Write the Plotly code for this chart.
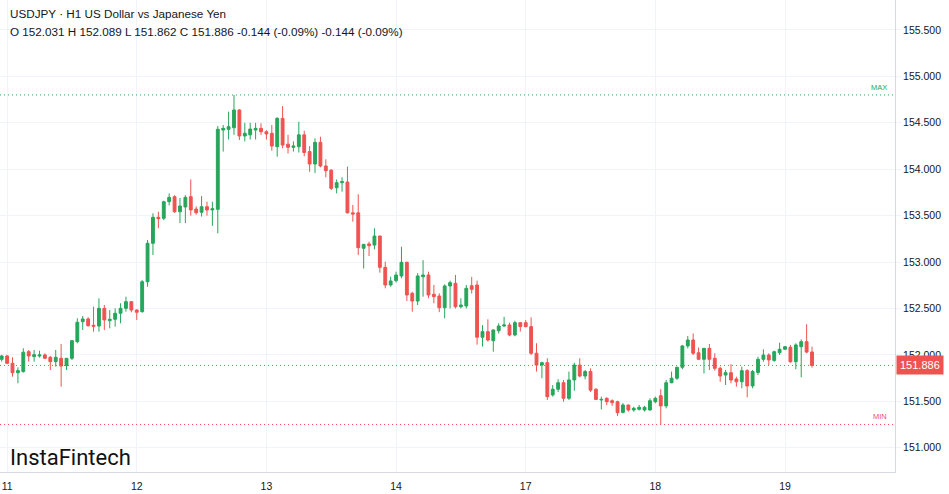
import plotly.graph_objects as go

# ---- data (H1 candles, left to right) ----
OPEN = [151.952, 151.988, 151.909, 151.808, 151.820, 152.034, 151.981, 151.988, 151.999, 151.974,
        151.927, 151.963, 151.884, 151.963, 152.142, 152.357, 152.387, 152.319, 152.311, 152.501,
        152.368, 152.383, 152.448, 152.501, 152.573, 152.483, 152.465, 152.788, 153.202, 153.482,
        153.471, 153.650, 153.704, 153.542, 153.593, 153.704, 153.571, 153.536, 153.596, 153.561,
        153.568, 154.422, 154.430, 154.447, 154.638, 154.358, 154.370, 154.422, 154.440, 154.404,
        154.387, 154.243, 154.548, 154.270, 154.236, 154.243, 154.370, 154.190, 154.056, 154.290,
        154.035, 153.990, 153.800, 153.855, 153.862, 153.530, 153.530, 153.148, 153.195, 153.183,
        153.280, 152.943, 152.753, 152.800, 152.850, 152.997, 152.663, 152.580, 152.842, 152.860,
        152.653, 152.634, 152.508, 152.742, 152.771, 152.519, 152.527, 152.745, 152.753, 152.190,
        152.250, 152.153, 152.260, 152.311, 152.322, 152.214, 152.347, 152.347, 152.304, 152.017,
        151.890, 151.916, 151.568, 151.630, 151.700, 151.532, 151.730, 151.890, 151.772, 151.820,
        151.630, 151.514, 151.532, 151.506, 151.495, 151.380, 151.460, 151.406, 151.414, 151.406,
        151.406, 151.495, 151.560, 151.450, 151.700, 151.748, 151.866, 152.096, 152.160, 152.023,
        151.952, 152.070, 151.963, 151.855, 151.783, 151.808, 151.740, 151.710, 151.830, 151.665,
        151.810, 151.952, 151.998, 151.940, 152.023, 152.060, 152.081, 151.926, 152.088, 152.142,
        152.031]
HIGH = [152.000, 151.999, 151.974, 151.866, 152.071, 152.053, 152.053, 152.045, 152.017, 151.988,
        152.053, 152.117, 151.963, 152.160, 152.394, 152.419, 152.405, 152.519, 152.609, 152.537,
        152.483, 152.501, 152.556, 152.627, 152.580, 152.491, 152.805, 153.237, 153.525, 153.542,
        153.660, 153.740, 153.720, 153.690, 153.720, 153.890, 153.600, 153.710, 153.650, 153.650,
        154.465, 154.476, 154.620, 154.800, 154.646, 154.500, 154.500, 154.500, 154.495, 154.420,
        154.476, 154.560, 154.680, 154.370, 154.300, 154.510, 154.415, 154.250, 154.333, 154.350,
        154.107, 154.000, 153.890, 153.913, 154.027, 153.615, 153.730, 153.195, 153.220, 153.364,
        153.285, 153.004, 152.842, 152.896, 153.165, 153.005, 152.680, 152.880, 153.020, 152.896,
        152.753, 152.663, 152.760, 152.800, 152.860, 152.610, 152.753, 152.840, 152.800, 152.320,
        152.383, 152.275, 152.340, 152.410, 152.347, 152.368, 152.354, 152.376, 152.405, 152.125,
        151.926, 151.963, 151.675, 151.737, 151.730, 151.820, 151.916, 151.963, 151.837, 151.855,
        151.640, 151.550, 151.543, 151.520, 151.506, 151.480, 151.462, 151.440, 151.460, 151.450,
        151.532, 151.550, 151.630, 151.730, 151.820, 151.873, 152.107, 152.203, 152.230, 152.080,
        152.075, 152.117, 152.017, 151.873, 151.837, 151.900, 151.765, 151.873, 151.845, 151.837,
        151.980, 152.060, 152.017, 152.045, 152.130, 152.096, 152.107, 152.125, 152.167, 152.330,
        152.089]
LOW = [151.927, 151.900, 151.765, 151.694, 151.808, 151.927, 151.927, 151.970, 151.955, 151.837,
       151.873, 151.657, 151.837, 151.945, 152.125, 152.268, 152.304, 152.250, 152.250, 152.268,
       152.286, 152.304, 152.340, 152.465, 152.459, 152.376, 152.455, 152.734, 153.076, 153.364,
       153.450, 153.610, 153.530, 153.420, 153.420, 153.500, 153.510, 153.490, 153.500, 153.390,
       153.310, 154.190, 154.320, 154.370, 154.315, 154.300, 154.320, 154.320, 154.370, 154.320,
       154.200, 154.135, 154.225, 154.170, 154.190, 154.180, 154.140, 153.973, 153.960, 154.020,
       153.913, 153.776, 153.740, 153.758, 153.525, 153.435, 153.076, 152.930, 153.065, 153.137,
       152.885, 152.717, 152.735, 152.780, 152.825, 152.580, 152.465, 152.537, 152.627, 152.610,
       152.555, 152.460, 152.394, 152.500, 152.500, 152.500, 152.500, 152.660, 152.110, 152.090,
       152.142, 152.034, 152.230, 152.300, 152.200, 152.200, 152.250, 152.297, 151.998, 151.820,
       151.748, 151.514, 151.550, 151.600, 151.496, 151.514, 151.614, 151.758, 151.737, 151.600,
       151.514, 151.413, 151.460, 151.450, 151.340, 151.370, 151.388, 151.388, 151.400, 151.390,
       151.400, 151.478, 151.250, 151.424, 151.694, 151.730, 151.845, 152.070, 151.998, 151.945,
       151.800, 151.837, 151.830, 151.710, 151.675, 151.694, 151.657, 151.640, 151.543, 151.640,
       151.783, 151.926, 151.890, 151.926, 151.998, 152.053, 151.915, 151.845, 151.758, 152.017,
       151.862]
CLOSE = [151.988, 151.909, 151.808, 151.830, 152.028, 151.988, 152.002, 151.999, 151.963, 151.927,
         151.974, 151.880, 151.963, 152.153, 152.351, 152.387, 152.314, 152.308, 152.501, 152.376,
         152.383, 152.448, 152.501, 152.573, 152.483, 152.459, 152.788, 153.202, 153.482, 153.467,
         153.650, 153.697, 153.542, 153.604, 153.697, 153.561, 153.531, 153.596, 153.561, 153.575,
         154.430, 154.440, 154.458, 154.638, 154.358, 154.387, 154.433, 154.440, 154.404, 154.380,
         154.250, 154.548, 154.260, 154.236, 154.250, 154.370, 154.180, 154.056, 154.290, 154.035,
         153.984, 153.794, 153.855, 153.866, 153.530, 153.517, 153.155, 153.190, 153.176, 153.280,
         152.943, 152.753, 152.796, 152.860, 152.997, 152.645, 152.580, 152.850, 152.860, 152.645,
         152.627, 152.508, 152.742, 152.778, 152.519, 152.537, 152.717, 152.706, 152.190, 152.250,
         152.160, 152.268, 152.311, 152.322, 152.214, 152.347, 152.304, 152.304, 152.017, 151.890,
         151.916, 151.550, 151.630, 151.700, 151.532, 151.730, 151.890, 151.772, 151.820, 151.620,
         151.520, 151.520, 151.495, 151.485, 151.377, 151.460, 151.406, 151.424, 151.435, 151.435,
         151.506, 151.532, 151.450, 151.700, 151.748, 151.866, 152.096, 152.160, 152.017, 151.952,
         152.070, 151.952, 151.855, 151.772, 151.808, 151.729, 151.710, 151.830, 151.665, 151.820,
         151.952, 151.998, 151.945, 152.034, 152.060, 152.088, 151.926, 152.107, 152.142, 152.030,
         151.886]

DAY_LABELS = ["11", "12", "13", "14", "17", "18", "19"]
DAY_TICK_IDX = [1, 25, 49, 73, 97, 121, 145]
PRICE_TICKS = [151.0, 151.5, 152.0, 152.5, 153.0, 153.5, 154.0, 154.5, 155.0, 155.5]

TITLE_LINE = "USDJPY · H1 US Dollar vs Japanese Yen"
OHLC_LINE = "O 152.031 H 152.089 L 151.862 C 151.886 -0.144 (-0.09%) -0.144 (-0.09%)"

GREEN = "#26a65b"
RED = "#ef5350"
GRID = "#f0f3fa"
AXIS = "#d6d9e0"
TEXT = "#131722"

idx = list(range(len(OPEN)))
last_price = CLOSE[-1]
max_price = max(HIGH)
min_price = min(LOW)

fig = go.Figure()
fig.add_trace(go.Candlestick(
    x=idx, open=OPEN, high=HIGH, low=LOW, close=CLOSE,
    increasing=dict(line=dict(color=GREEN, width=1), fillcolor=GREEN),
    decreasing=dict(line=dict(color=RED, width=1), fillcolor=RED),
    whiskerwidth=0, hoverinfo="skip", showlegend=False,
))

# horizontal reference lines (max, min, last)
for yv, col in [(max_price, GREEN), (min_price, RED), (last_price, RED)]:
    fig.add_shape(type="line", xref="paper", x0=0, x1=1, yref="y", y0=yv, y1=yv,
                  line=dict(color=col, width=1, dash="1px,3px"), layer="above")

fig.add_annotation(xref="paper", x=1, xanchor="right", xshift=-6, yref="y", y=max_price,
                   yanchor="bottom", yshift=1, text="MAX", showarrow=False,
                   font=dict(size=7.5, color=GREEN, family="Liberation Sans"))
fig.add_annotation(xref="paper", x=1, xanchor="right", xshift=-6, yref="y", y=min_price,
                   yanchor="bottom", yshift=1, text="MIN", showarrow=False,
                   font=dict(size=7.5, color=RED, family="Liberation Sans"))

# last price label on the axis
fig.add_annotation(xref="paper", x=1, xanchor="left", xshift=1, yref="y", y=last_price,
                   yanchor="middle", text=f"{last_price:.3f}", showarrow=False,
                   bgcolor=RED, borderpad=3, font=dict(size=11, color="white", family="Liberation Sans"))

# header
fig.add_annotation(xref="paper", x=0, xanchor="left", xshift=8, yref="paper", y=1,
                   yanchor="middle", yshift=-13, text=TITLE_LINE, showarrow=False,
                   font=dict(size=11.7, color=TEXT, family="Liberation Sans"))
fig.add_annotation(xref="paper", x=0, xanchor="left", xshift=8, yref="paper", y=1,
                   yanchor="middle", yshift=-31, text=OHLC_LINE, showarrow=False,
                   font=dict(size=11.7, color=TEXT, family="Liberation Sans"))

# watermark
fig.add_annotation(xref="paper", x=0, xanchor="left", xshift=8, yref="paper", y=0,
                   yanchor="middle", yshift=15, text="InstaFintech", showarrow=False,
                   font=dict(size=22, color="#111111", family="Roboto"))

fig.update_layout(
    width=949, height=494,
    margin=dict(l=0, r=54, t=0, b=22),
    paper_bgcolor="white", plot_bgcolor="white",
    boxgap=0.25,
    xaxis=dict(range=[-0.315, 165.36], tickvals=DAY_TICK_IDX, ticktext=DAY_LABELS,
               showgrid=True, gridcolor=GRID, gridwidth=1, zeroline=False,
               showline=True, linecolor=AXIS, linewidth=1, mirror=False,
               ticks="outside", ticklen=4, tickcolor="rgba(0,0,0,0)",
               tickfont=dict(size=10.5, color=TEXT, family="Liberation Sans"),
               rangeslider=dict(visible=False), fixedrange=True),
    yaxis=dict(side="right", range=[150.738, 155.823], tickvals=PRICE_TICKS,
               tickformat=".3f", showgrid=True, gridcolor=GRID, gridwidth=1,
               zeroline=False, showline=True, linecolor=AXIS, linewidth=1,
               ticks="outside", ticklen=5, tickcolor=GRID,
               tickfont=dict(size=10.5, color=TEXT, family="Liberation Sans"),
               fixedrange=True),
)

fig.write_html("out.html")
